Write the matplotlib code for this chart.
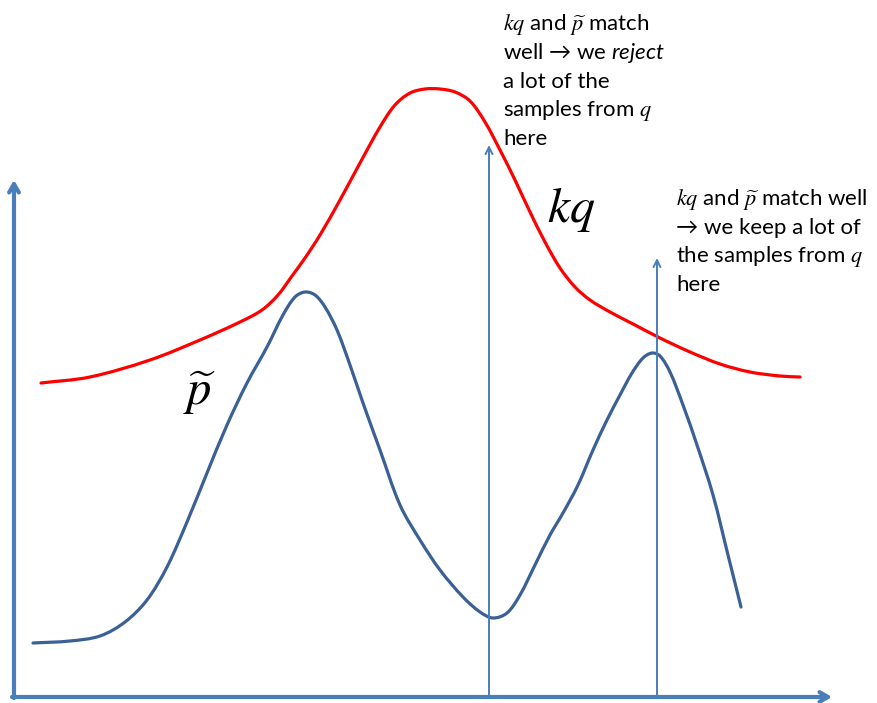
import math
import matplotlib.pyplot as plt
from matplotlib.path import Path
from matplotlib.patches import PathPatch

# curve points in canvas units (x right, y down)
kq_x = [41, 90, 150, 200, 240, 262, 278, 292, 305, 320, 340, 360, 380, 395, 410,
        425, 440, 455, 470, 485, 500, 515, 530, 545, 560, 575, 590, 610, 635, 660,
        690, 720, 750, 780, 800]
kq_y = [383, 377, 360, 340, 322, 310, 295, 276, 258, 235, 200, 163, 127, 105, 93,
        89, 89, 92, 101, 122, 150, 180, 212, 242, 268, 287, 300, 312, 325, 338,
        352, 364, 372, 376, 377]

p_x = [33, 70, 100, 125, 147, 167, 187, 207, 227, 247, 267, 283, 295, 305, 315,
       325, 337, 350, 363, 380, 400, 420, 440, 463, 480, 493, 507, 520, 535, 550,
       563, 578, 593, 607, 620, 632, 643, 652, 660, 670, 683, 697, 713, 728, 741]
p_y = [643, 641, 636, 622, 600, 567, 522, 473, 425, 383, 347, 315, 297, 292, 295,
       307, 330, 365, 403, 450, 505, 540, 570, 597, 612, 618, 613, 595, 565, 535,
       513, 485, 450, 420, 395, 373, 358, 353, 356, 372, 405, 445, 495, 555, 607]

# sample positions marked with vertical arrows: (x, top)
marks = [(489, 145), (657, 258)]

note_reject = [r"$kq$ and $\widetilde{p}$ match",
               r"well → we $\mathsf{reject}$",
               "a lot of the",
               r"samples from $q$",
               "here"]
note_keep = [r"$kq$ and $\widetilde{p}$ match well",
             "→ we keep a lot of",
             r"the samples from $q$",
             "here"]


def smooth_path(xs, ys):
    # cubic Bezier through the points, tangents weighted by chord length
    pts = list(zip(xs, ys))
    n = len(pts)
    dist = [math.dist(pts[i], pts[i + 1]) for i in range(n - 1)]
    tang = []
    for i in range(n):
        a = pts[max(i - 1, 0)]
        b = pts[min(i + 1, n - 1)]
        span = (dist[i - 1] if i > 0 else 0) + (dist[i] if i < n - 1 else 0)
        tang.append(((b[0] - a[0]) / span, (b[1] - a[1]) / span))
    verts = [pts[0]]
    codes = [Path.MOVETO]
    for i in range(n - 1):
        d = dist[i] / 3
        c1 = (pts[i][0] + tang[i][0] * d, pts[i][1] + tang[i][1] * d)
        c2 = (pts[i + 1][0] - tang[i + 1][0] * d, pts[i + 1][1] - tang[i + 1][1] * d)
        verts += [c1, c2, pts[i + 1]]
        codes += [Path.CURVE4] * 3
    return Path(verts, codes)


plt.rcParams["mathtext.fontset"] = "custom"
plt.rcParams["mathtext.rm"] = "Lato"
plt.rcParams["mathtext.it"] = "STIXGeneral:italic"
plt.rcParams["mathtext.sf"] = "Lato:italic"
plt.rcParams["font.family"] = ["Lato", "DejaVu Sans"]

fig = plt.figure(figsize=(8.78, 7.03), dpi=100)
ax = fig.add_axes([0, 0, 1, 1])
ax.set_xlim(0, 878)
ax.set_ylim(703, 0)
ax.axis("off")

axis_col = "#4a7ebb"
ax.annotate("", xy=(14, 180), xytext=(14, 698),
            arrowprops=dict(arrowstyle="->,head_length=0.6,head_width=0.35",
                            color=axis_col, lw=3, shrinkA=0, shrinkB=0))
ax.annotate("", xy=(832, 697), xytext=(12, 697),
            arrowprops=dict(arrowstyle="->,head_length=0.6,head_width=0.35",
                            color=axis_col, lw=3, shrinkA=0, shrinkB=0))

for mx, top in marks:
    ax.annotate("", xy=(mx, top), xytext=(mx, 697),
                arrowprops=dict(arrowstyle="->,head_length=0.5,head_width=0.25",
                                color=axis_col, lw=1.4, shrinkA=0, shrinkB=0))

ax.add_patch(PathPatch(smooth_path(kq_x, kq_y), fill=False,
                       edgecolor="#ff0000", lw=2.3, capstyle="round"))
ax.add_patch(PathPatch(smooth_path(p_x, p_y), fill=False,
                       edgecolor="#3b6095", lw=2.3, capstyle="round"))

ax.text(547, 222, r"$kq$", fontsize=36, va="baseline")
ax.text(183, 405, r"$\widetilde{p}$", fontsize=35, va="baseline")

for i, line in enumerate(note_reject):
    ax.text(503, 30 + i * 28.8, line, fontsize=16, va="baseline")
for i, line in enumerate(note_keep):
    ax.text(676, 205 + i * 28.7, line, fontsize=16, va="baseline")

fig.savefig("out.png", dpi=100)
